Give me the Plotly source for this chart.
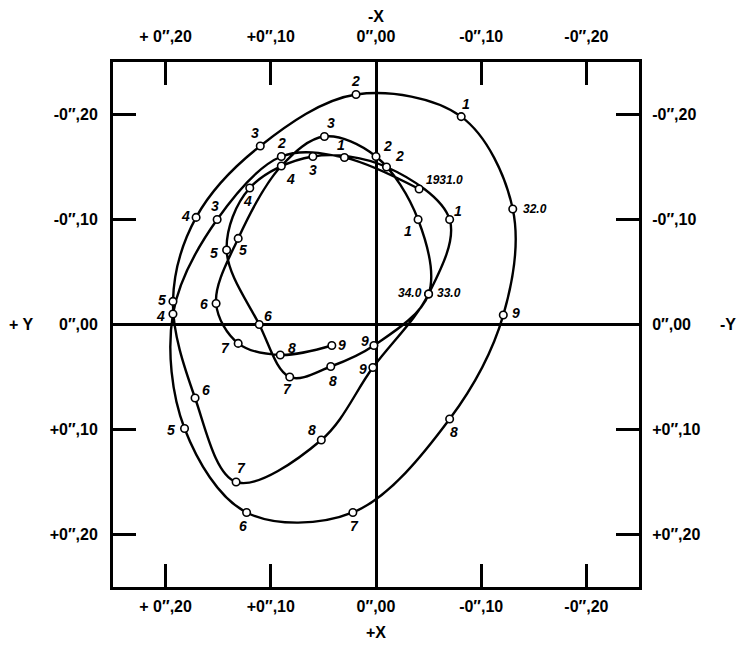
import plotly.graph_objects as go

# ---- data (arcsec), x positive to the left, y positive downward ----
x_1931 = [-0.041, 0.030, 0.090, 0.151, 0.193, 0.182, 0.123, 0.022, -0.070, -0.121]
y_1931 = [-0.129, -0.159, -0.160, -0.100, -0.010, 0.099, 0.179, 0.179, 0.090, -0.009]
x_1932 = [-0.130, -0.081, 0.019, 0.110, 0.171, 0.193, 0.172, 0.133, 0.052, 0.003]
y_1932 = [-0.110, -0.198, -0.219, -0.170, -0.102, -0.022, 0.070, 0.150, 0.110, 0.041]
x_1933 = [-0.050, -0.070, -0.010, 0.060, 0.120, 0.142, 0.111, 0.082, 0.043, 0.002]
y_1933 = [-0.029, -0.100, -0.150, -0.160, -0.130, -0.071, 0.000, 0.050, 0.040, 0.020]
x_1934 = [-0.050, -0.040, 0.000, 0.049, 0.090, 0.131, 0.152, 0.131, 0.091, 0.042]
y_1934 = [-0.029, -0.100, -0.160, -0.179, -0.151, -0.082, -0.020, 0.018, 0.029, 0.020]

labels_1931 = ["1931.0", "1", "2", "3", "4", "5", "6", "7", "8", "9"]
labels_1932 = ["32.0", "1", "2", "3", "4", "5", "6", "7", "8", "9"]
labels_1933 = ["33.0", "1", "2", "3", "4", "5", "6", "7", "8", "9"]
labels_1934 = ["34.0", "1", "2", "3", "4", "5", "6", "7", "8", "9"]

tick_vals = [0.20, 0.10, 0.00, -0.10, -0.20]
x_tick_text = ["+ 0\u2033,20", "+0\u2033,10", "0\u2033,00", "-0\u2033,10", "-0\u2033,20"]
y_tick_text_left = ["+0\u2033,20", "+0\u2033,10", "0\u2033,00", "-0\u2033,10", "-0\u2033,20"]
y_tick_text_right = ["+0\u2033,20", "+0\u2033,10", "0\u2033,00", "-0\u2033,10", "-0\u2033,20"]

# ---- label placement (pixel offsets: dx right, dy down) ----
off_1931 = [(25, -9), (-3, -13), (0, -14), (-2, -14), (-12, 2), (-14, 2), (-4, 14), (2, 14), (4, 13), (13, -2)]
off_1932 = [(22, 0), (5, -13), (-1, -14), (-5, -13), (-11, -1), (-11, -1), (11, -8), (5, -14), (-9, -10), (-10, 1)]
off_1933 = [(20, -1), (8, -9), (13, -11), (0, 13), (-2, 13), (-13, 3), (9, -9), (-2, 12), (2, 14), (-9, -5)]
off_1934 = [(-19, -1), (-10, 11), (11, -11), (7, -14), (9, 13), (5, 12), (-12, 0), (-13, 5), (12, -7), (10, -1)]

xs_all = x_1931 + x_1932 + x_1933 + x_1934
ys_all = y_1931 + y_1932 + y_1933 + y_1934
labels_all = labels_1931 + labels_1932 + labels_1933 + labels_1934
offs_all = off_1931 + off_1932 + off_1933 + off_1934

FONT = "Liberation Sans"

fig = go.Figure()
fig.add_trace(go.Scatter(
    x=xs_all, y=ys_all, mode="lines+markers",
    line=dict(color="black", width=2.4, shape="spline", smoothing=1.0),
    marker=dict(symbol="circle", size=7.5, color="white", line=dict(color="black", width=1.6)),
    showlegend=False, hoverinfo="skip",
))
# dummy trace to activate top/right axes
fig.add_trace(go.Scatter(x=[None], y=[None], xaxis="x2", yaxis="y2", showlegend=False))

annots = []
for x, y, t, (dx, dy) in zip(xs_all, ys_all, labels_all, offs_all):
    annots.append(dict(
        x=x, y=y, xref="x", yref="y", text=t, showarrow=False,
        xshift=dx, yshift=-dy,
        font=dict(family=FONT, size=12 if "." in t else 14, color="black",
                  weight="bold", style="italic"),
    ))

title_font = dict(family=FONT, size=16, color="black", weight="bold")
annots += [
    dict(text="-X", x=0.5, y=1, xref="paper", yref="paper", yanchor="middle", yshift=46,
         showarrow=False, font=title_font),
    dict(text="+X", x=0.5, y=0, xref="paper", yref="paper", yanchor="middle", yshift=-45,
         showarrow=False, font=title_font),
    dict(text="+ Y", x=0, y=0, xref="paper", yref="y", xanchor="center", xshift=-92,
         showarrow=False, font=title_font),
    dict(text="-Y", x=1, y=0, xref="paper", yref="y", xanchor="center", xshift=89,
         showarrow=False, font=title_font),
]

tickfont = dict(family=FONT, size=16, color="black", weight="bold")
common = dict(
    range=[0.25, -0.25], tickvals=tick_vals, ticks="inside", ticklen=23, tickwidth=2.5,
    tickcolor="black", showline=True, linewidth=3, linecolor="black", showgrid=False,
    tickfont=tickfont,
)

# page body has an 8px default margin, so margins are compensated
fig.update_layout(
    width=746, height=647,
    margin=dict(l=105, r=115, t=54, b=68),
    paper_bgcolor="white", plot_bgcolor="white",
    xaxis=dict(**common, ticktext=x_tick_text, side="bottom", zeroline=True,
               zerolinecolor="black", zerolinewidth=2.5, ticklabelstandoff=3),
    xaxis2=dict(**common, ticktext=x_tick_text, side="top", overlaying="x", anchor="y",
                zeroline=False, ticklabelstandoff=11),
    yaxis=dict(**common, ticktext=y_tick_text_left, side="left", zeroline=True,
               zerolinecolor="black", zerolinewidth=2.5, ticklabelstandoff=9),
    yaxis2=dict(**common, ticktext=y_tick_text_right, side="right", overlaying="y", anchor="x",
                zeroline=False, ticklabelstandoff=7),
    annotations=annots,
)
fig.write_html("out.html")
